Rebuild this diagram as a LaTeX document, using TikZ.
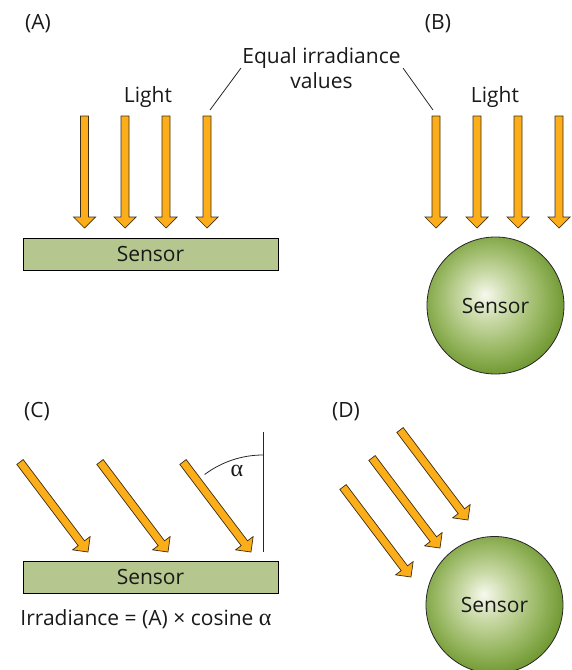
\documentclass[tikz,border=0pt]{standalone}
\usepackage{fontspec}
\setmainfont{Open Sans}
\newfontfamily\greekfont{Liberation Serif}
\usetikzlibrary{calc}
\definecolor{rayorange}{RGB}{252,174,26}
\definecolor{rayedge}{RGB}{60,45,20}
\definecolor{sensorgreen}{RGB}{181,199,143}
\definecolor{ballA}{RGB}{246,249,238}
\definecolor{ballB}{RGB}{205,220,172}
\definecolor{ballC}{RGB}{152,183,98}
\definecolor{ballD}{RGB}{104,146,40}
\definecolor{inktext}{RGB}{25,25,25}
\pgfdeclareradialshading{sensorball}{\pgfpoint{-4bp}{4bp}}{%
  color(0bp)=(ballA); color(8bp)=(ballB); color(19bp)=(ballC); color(29bp)=(ballD); color(50bp)=(ballD)}
\newcommand\larrow[2]{%
  \coordinate (lb) at ($(#2)!11pt!(#1)$);
  \draw[lightray] ($(#1)!4pt!90:(#2)$) -- ($(lb)!4pt!90:(#2)$) -- ($(lb)!11pt!90:(#2)$) -- (#2)
    -- ($(lb)!11pt!-90:(#2)$) -- ($(lb)!4pt!-90:(#2)$) -- ($(#1)!4pt!-90:(#2)$) -- cycle;}
\newcommand\galpha{{\greekfont\fontsize{24}{25}\selectfont α}}
\begin{document}
\begin{tikzpicture}[x=1pt,y=-1pt,
  lightray/.style={fill=rayorange,draw=rayedge,line width=0.7pt,line join=miter},
  flatsensor/.style={draw=black,line width=0.8pt,fill=sensorgreen,minimum width=255pt,minimum height=32pt,inner sep=0pt},
  ballsensor/.style={circle,draw=black!85,line width=0.8pt,shading=sensorball,minimum size=137pt,inner sep=0pt},
  lbl/.style={text=inktext,font=\fontsize{21}{25}\selectfont,inner sep=0pt},
  leader/.style={draw=black!85,line width=0.8pt}]
\useasboundingbox (0,0) rectangle (572,670);
% panel labels
\node[lbl,anchor=base] (pa) at (38,29) {(A)};
\node[lbl,anchor=base] (pb) at (438,29) {(B)};
\node[lbl,anchor=base] (pc) at (37,417) {(C)};
\node[lbl,anchor=base] (pd) at (346,417) {(D)};
% top labels
\node[lbl,anchor=base] (lightA) at (148,102) {Light};
\node[lbl,anchor=base] (lightB) at (495,102) {Light};
\node[lbl,anchor=base,align=center] (equal) at (321.5,88) {Equal irradiance\\values};
\coordinate (lt1) at (241,68); \coordinate (lb1) at (210,110);
\coordinate (lt2) at (403,68); \coordinate (lb2) at (433,110);
\draw[leader] (lt1) -- (lb1);
\draw[leader] (lt2) -- (lb2);
% panel A
\node[flatsensor,lbl] (sensA) at (150.5,254) {Sensor};
\foreach \i/\x in {1/84.5,2/125,3/166,4/207}{
  \coordinate (at\i) at (\x,116); \coordinate (ah\i) at (\x,228);
  \larrow{at\i}{ah\i}}
% panel B
\foreach \i/\x in {1/436,2/477,3/518,4/559}{
  \coordinate (bt\i) at (\x,116); \coordinate (bh\i) at (\x,228);
  \larrow{bt\i}{bh\i}}
\node[ballsensor,lbl] (sensB) at (495.5,305.5) {Sensor};
% panel C
\node[flatsensor,lbl] (sensC) at (150.5,577) {Sensor};
\node[lbl,anchor=base] (irr) at (146,625) {Irradiance = (A) × cosine \galpha};
\foreach \i/\x in {1/20,2/100,3/183}{
  \coordinate (ct\i) at (\x,462); \coordinate (ch\i) at ({\x+68},552);
  \larrow{ct\i}{ch\i}}
\coordinate (vtop) at (263,432); \coordinate (vbot) at (263,552);
\draw[leader] (vtop) -- (vbot);
\draw[leader] ($(vbot)+(233:97)$) arc[start angle=233,end angle=270,radius=97];
\node[lbl,anchor=base] (alpha) at (237,476) {\galpha};
% panel D
\foreach \i/\x/\y in {1/343/487,2/372/458,3/400/430}{
  \coordinate (dt\i) at (\x,\y); \coordinate (dh\i) at ({\x+68},{\y+90});
  \larrow{dt\i}{dh\i}}
\node[ballsensor,lbl] (sensD) at (494.5,605) {Sensor};
\end{tikzpicture}
\end{document}
